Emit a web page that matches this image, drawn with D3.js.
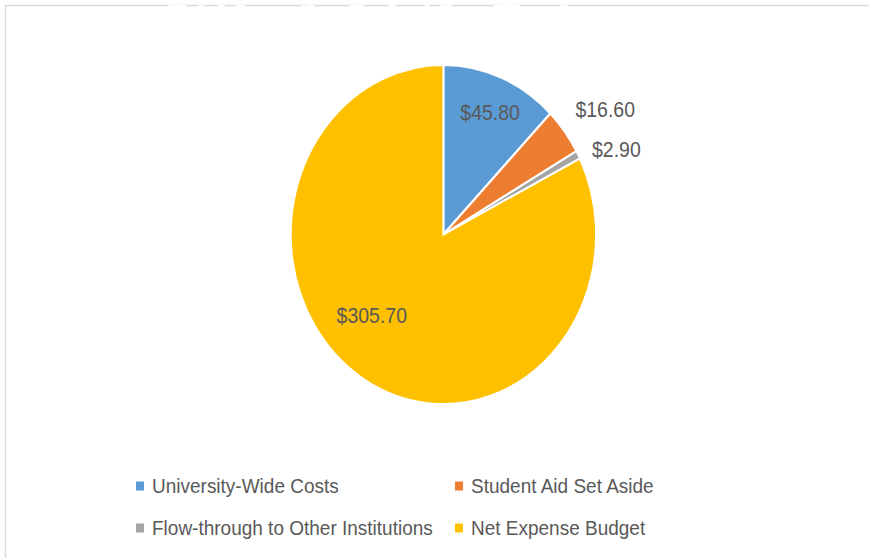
<!DOCTYPE html>
<html>
<head>
<meta charset="utf-8">
<script src="https://cdn.jsdelivr.net/npm/d3@7"></script>
<style>
  html, body { margin: 0; padding: 0; background: #ffffff; }
  svg { display: block; }
  text { font-family: "Liberation Sans", Arial, sans-serif; }
</style>
</head>
<body>
<div id="chart"></div>
<script>
// ---- data ----
const categories = ["University-Wide Costs", "Student Aid Set Aside", "Flow-through to Other Institutions", "Net Expense Budget"];
const values = [45.80, 16.60, 2.90, 305.70];
const labels = ["$45.80", "$16.60", "$2.90", "$305.70"];
const colors = ["#5B9BD5", "#ED7D31", "#A5A5A5", "#FFC000"];
const titleText = "Total Operating Budget (in millions)";

// ---- label placement (radius factor, fraction through the slice) ----
const labelRadius = [0.78, 1.29, 1.24, 0.67];
const labelFrac = [0.52, 0.67, 1.93, 0.543];

const W = 869, H = 558;
const cx = 443.4, cy = 234.5, r = 152.7, k = 1.11;

const svg = d3.select("#chart").append("svg")
  .attr("width", W).attr("height", H);

// frame
svg.append("rect")
  .attr("x", 5.5).attr("y", 5.5)
  .attr("width", W + 20).attr("height", H + 20)
  .attr("fill", "none").attr("stroke", "#d9d9d9").attr("stroke-width", 1.5);

// white title (its top overlaps the frame edge)
svg.append("text")
  .attr("x", 370).attr("y", 19)
  .attr("text-anchor", "middle")
  .attr("font-size", 18)
  .attr("font-weight", "bold")
  .attr("textLength", 400)
  .attr("lengthAdjust", "spacingAndGlyphs")
  .attr("fill", "#ffffff")
  .attr("stroke", "#ffffff")
  .attr("stroke-width", 2.6)
  .text(titleText);

const pie = d3.pie().sort(null).value(d => d);
const arcs = pie(values);
const arc = d3.arc().innerRadius(0).outerRadius(r);

const g = svg.append("g")
  .attr("transform", `translate(${cx},${cy}) scale(1,${k})`);

g.selectAll("path").data(arcs).join("path")
  .attr("d", arc)
  .attr("fill", (d, i) => colors[i])
  .attr("stroke", "#ffffff")
  .attr("stroke-width", 2)
  .attr("vector-effect", "non-scaling-stroke");

// data labels
svg.selectAll("text.lbl").data(arcs).join("text")
  .attr("class", "lbl")
  .attr("transform", (d, i) => {
    const a = d.startAngle + labelFrac[i] * (d.endAngle - d.startAngle);
    const x = cx + Math.sin(a) * labelRadius[i] * r;
    const y = cy - Math.cos(a) * labelRadius[i] * r * k;
    return `translate(${x},${y}) scale(1,${k})`;
  })
  .attr("text-anchor", "middle")
  .attr("dy", "0.35em")
  .attr("font-size", 19.5)
  .attr("fill", "#595959")
  .text((d, i) => labels[i]);

// legend
const colX = [136, 455];
const rowY = [486, 528];
const lg = svg.selectAll("g.leg").data(categories).join("g")
  .attr("class", "leg")
  .attr("transform", (d, i) => `translate(${colX[i % 2]},${rowY[Math.floor(i / 2)]})`);
lg.append("rect")
  .attr("x", 0).attr("y", -4.5)
  .attr("width", 8).attr("height", 9)
  .attr("fill", (d, i) => colors[i]);
lg.append("text")
  .attr("transform", `translate(16,0) scale(1,${k})`)
  .attr("dy", "0.35em")
  .attr("font-size", 19)
  .attr("fill", "#595959")
  .text(d => d);
</script>
</body>
</html>
